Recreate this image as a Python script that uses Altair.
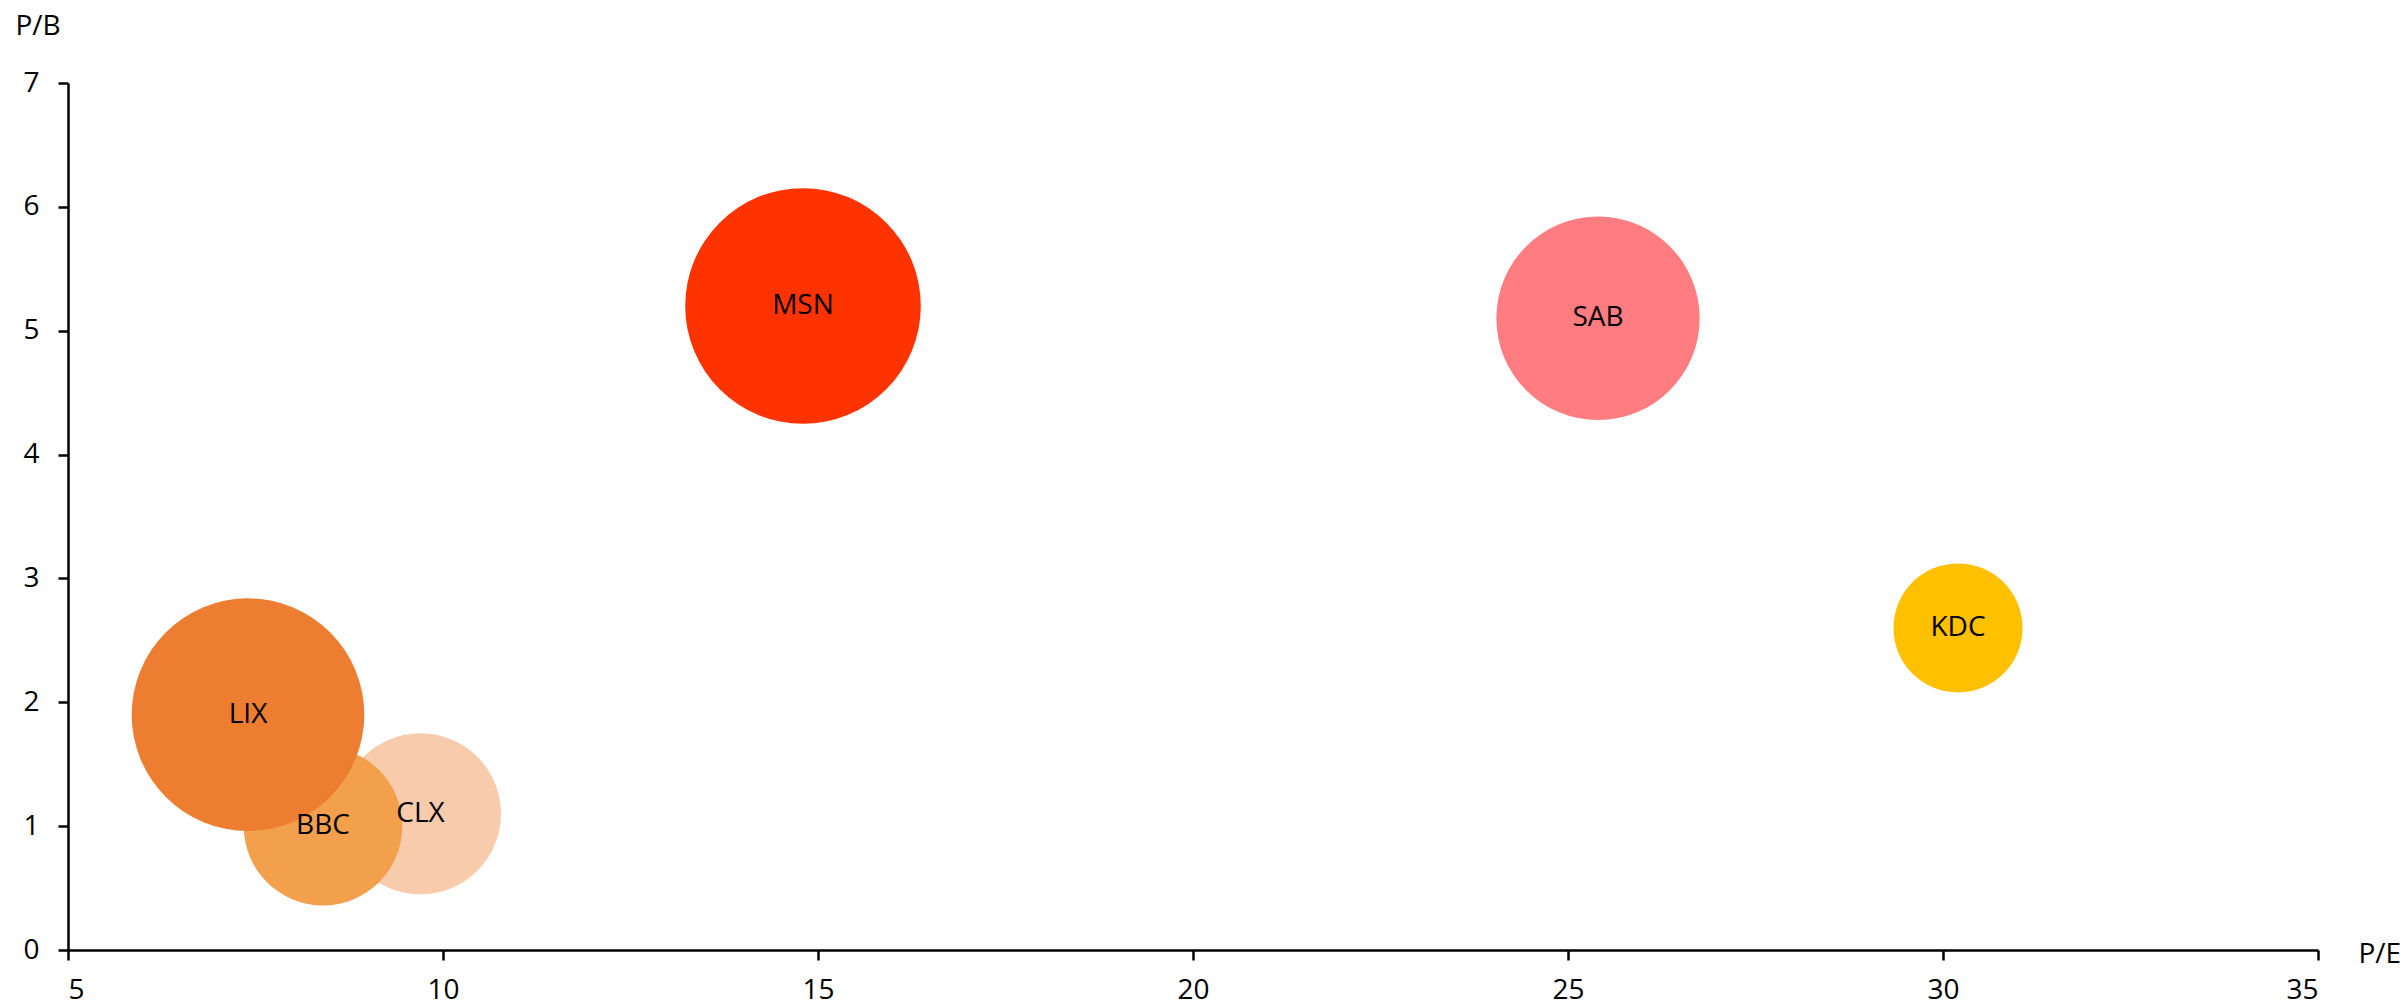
import altair as alt
import pandas as pd

names = ["MSN", "SAB", "KDC", "CLX", "BBC", "LIX"]
pe = [14.8, 25.4, 30.2, 9.7, 8.4, 7.4]
pb = [5.2, 5.1, 2.6, 1.1, 1.0, 1.9]
bubble = [100, 74.5, 30.0, 46.7, 45.3, 97.5]
colors = ["#FF3300", "#FF7C80", "#FFC000", "#F8CBAD", "#F2A04B", "#ED7D31"]
x_ticks = [5, 10, 15, 20, 25, 30, 35]
y_ticks = [0, 1, 2, 3, 4, 5, 6, 7]

df = pd.DataFrame({"name": names, "pe": pe, "pb": pb, "bubble": bubble,
                   "order": list(range(len(names)))})

FONT = "Open Sans"
max_size = (2 * 117.8) ** 2  # vega symbol size: diameter = sqrt(size)

x = alt.X("pe:Q", scale=alt.Scale(domain=[5, 35], nice=False, zero=False),
          axis=alt.Axis(values=x_ticks, format="d", title="P/E",
                        titleX=2290, titleY=12, titleAlign="left",
                        titleBaseline="alphabetic", titleAnchor="start",
                        labelPadding=16))
y = alt.Y("pb:Q", scale=alt.Scale(domain=[0, 7], nice=False, zero=True),
          axis=alt.Axis(values=y_ticks, format="d", title="P/B",
                        titleAngle=0, titleX=-53, titleY=-49, titleAlign="left",
                        titleBaseline="alphabetic", labelPadding=19))

circles = alt.Chart(df).mark_circle(opacity=1).encode(
    x=x, y=y,
    size=alt.Size("bubble:Q", scale=alt.Scale(domain=[0, 100], range=[0, max_size]),
                  legend=None),
    color=alt.Color("name:N", scale=alt.Scale(domain=names, range=colors), legend=None),
    order=alt.Order("order:Q"),
)

labels = alt.Chart(df).mark_text(font=FONT, fontSize=28, color="black",
                                 align="center", baseline="middle").encode(
    x="pe:Q", y="pb:Q", text="name:N")

chart = (circles + labels).properties(
    width=2250, height=867,
    background="white",
    autosize=alt.AutoSizeParams(type="none"),
    padding={"left": 68, "top": 83, "right": 87, "bottom": 57},
).configure_view(stroke=None).configure_axis(
    grid=False, domainColor="black", domainWidth=2.5, tickColor="black",
    tickWidth=2.5, tickSize=10, labelFont=FONT, labelFontSize=28,
    labelColor="black", titleFont=FONT, titleFontSize=28, titleFontWeight="normal",
    titleColor="black",
)

chart.save("out.html", embed_options={"renderer": "svg", "actions": False})
